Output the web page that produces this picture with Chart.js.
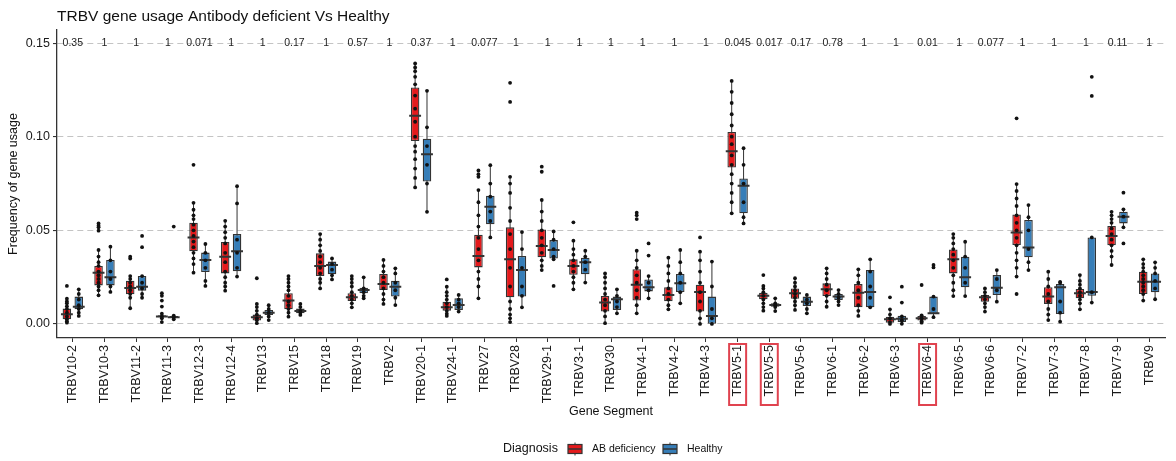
<html><head><meta charset="utf-8">
<script src="https://cdn.jsdelivr.net/npm/chart.js@4.4.0/dist/chart.umd.min.js"></script>
<style>
 html, body { margin:0; padding:0; background:#fff; }
</style>
</head>
<body>
<canvas id="myChart" width="1176" height="461"></canvas>
<script>
var chartTitle = 'TRBV gene usage Antibody deficient Vs Healthy';
var genes = ['TRBV10-2','TRBV10-3','TRBV11-2','TRBV11-3','TRBV12-3','TRBV12-4','TRBV13','TRBV15','TRBV18','TRBV19',
  'TRBV2','TRBV20-1','TRBV24-1','TRBV27','TRBV28','TRBV29-1','TRBV3-1','TRBV30','TRBV4-1','TRBV4-2','TRBV4-3',
  'TRBV5-1','TRBV5-5','TRBV5-6','TRBV6-1','TRBV6-2','TRBV6-3','TRBV6-4','TRBV6-5','TRBV6-6','TRBV7-2','TRBV7-3',
  'TRBV7-8','TRBV7-9','TRBV9'];
var pValues = ['0.35','1','1','1','0.071','1','1','0.17','1','0.57','1','0.37','1','0.077','1','1','1','1','1','1','1',
  '0.045','0.017','0.17','0.78','1','1','0.01','1','0.077','1','1','1','0.11','1'];
var highlighted = ['TRBV5-1','TRBV5-5','TRBV6-4'];
var yTicks = [0, 0.05, 0.10, 0.15];
var pLabelY = 0.15;

// AB deficiency boxes
var abLo  = [0.0007,0.0153,0.0084,0.001,0.0274,0.0178,0.0004,0.0039,0.019,0.0089,0.0107,0.0729,0.0043,0.0137,0.001,0.0288,0.0185,0.0004,0.0057,0.0078,0.0,0.0591,0.0071,0.0075,0.0092,0.0043,0.0,0.0007,0.0149,0.0066,0.0253,0.0021,0.0078,0.0315,0.0125];
var abQ1  = [0.0025,0.0206,0.0158,0.0036,0.0388,0.027,0.0018,0.0078,0.0256,0.0123,0.0181,0.0977,0.0071,0.0302,0.0142,0.0356,0.0263,0.0066,0.0125,0.0121,0.0066,0.0836,0.0132,0.0135,0.0149,0.0089,0.0007,0.0018,0.027,0.0119,0.0422,0.0107,0.0137,0.042,0.016];
var abMed = [0.0052,0.0274,0.0192,0.004,0.0462,0.0359,0.0036,0.0125,0.031,0.0142,0.0213,0.1112,0.0089,0.0363,0.0345,0.0416,0.031,0.0114,0.021,0.0155,0.0171,0.0923,0.0151,0.0164,0.0185,0.0167,0.0025,0.003,0.0345,0.0142,0.0489,0.0146,0.0164,0.047,0.0226];
var abQ3  = [0.0082,0.031,0.0231,0.0046,0.0541,0.0438,0.005,0.0164,0.0377,0.0164,0.0267,0.1263,0.0119,0.0477,0.0516,0.0505,0.0345,0.0149,0.0292,0.0196,0.021,0.1025,0.0167,0.0189,0.0217,0.0213,0.0039,0.0043,0.0398,0.0155,0.0585,0.0196,0.0187,0.0523,0.0279];
var abHi  = [0.0135,0.0395,0.0256,0.0055,0.0647,0.0551,0.0107,0.0256,0.048,0.0256,0.0342,0.1391,0.0199,0.0715,0.0786,0.0662,0.0445,0.027,0.0391,0.0354,0.0386,0.1298,0.0203,0.0244,0.0297,0.0292,0.0078,0.0046,0.048,0.019,0.0747,0.0279,0.0261,0.0599,0.0345];

// Healthy boxes
var hcLo  = [0.0043,0.0171,0.014,0.0025,0.0203,0.0253,0.0021,0.0048,0.0238,0.0137,0.0101,0.0599,0.0066,0.0462,0.0089,0.0345,0.0221,0.0057,0.0137,0.011,0.0,0.0537,0.0069,0.0057,0.0101,0.0089,0.0001,0.0036,0.0149,0.0119,0.0288,0.0012,0.0114,0.0516,0.0132];
var hcQ1  = [0.0078,0.0206,0.0178,0.0032,0.0277,0.0281,0.0048,0.0057,0.0265,0.0164,0.0146,0.0761,0.0075,0.0532,0.0146,0.035,0.0265,0.0075,0.0174,0.0171,0.0001,0.0591,0.0092,0.0096,0.0128,0.0089,0.0011,0.0053,0.0196,0.0155,0.0356,0.0053,0.0151,0.0537,0.0169];
var hcMed = [0.0092,0.0249,0.0199,0.0036,0.0342,0.0388,0.006,0.0069,0.0315,0.0181,0.0199,0.0907,0.0101,0.0626,0.0288,0.0395,0.0329,0.0132,0.0196,0.0217,0.0043,0.0738,0.0101,0.0119,0.0146,0.0171,0.0028,0.0057,0.0249,0.0194,0.0409,0.0196,0.0171,0.0573,0.0226];
var hcQ3  = [0.0146,0.0342,0.0256,0.0043,0.0381,0.048,0.0075,0.0082,0.0333,0.0194,0.0231,0.0989,0.0137,0.0685,0.0363,0.0448,0.0354,0.0146,0.0238,0.0267,0.0146,0.0777,0.011,0.0146,0.016,0.0288,0.0044,0.0146,0.0359,0.0261,0.0555,0.0213,0.0462,0.0599,0.027];
var hcHi  = [0.0185,0.0413,0.0256,0.0045,0.0427,0.0736,0.01,0.0107,0.035,0.0249,0.0297,0.1245,0.0155,0.0848,0.0491,0.0494,0.0391,0.0185,0.0256,0.0395,0.0333,0.0939,0.0137,0.0155,0.0181,0.0345,0.0044,0.0146,0.0439,0.0288,0.0635,0.0224,0.0462,0.0612,0.0329];

// individual samples (jitter + outliers)
var abPoints = [
  [0.0203,0.0135,0.012,0.011,0.0095,0.008,0.006,0.004,0.0025,0.0015,0.0007],
  [0.0537,0.0525,0.0516,0.0498,0.0395,0.036,0.033,0.031,0.028,0.026,0.024,0.022,0.02,0.018,0.0153],
  [0.0359,0.0349,0.0256,0.024,0.022,0.02,0.018,0.016,0.014,0.0084],
  [0.0164,0.015,0.0125,0.0093,0.0055,0.004,0.003,0.001],
  [0.085,0.0647,0.061,0.058,0.056,0.053,0.05,0.047,0.044,0.041,0.038,0.035,0.032,0.0274],
  [0.0551,0.052,0.049,0.046,0.043,0.038,0.033,0.028,0.025,0.022,0.02,0.0178],
  [0.0244,0.0107,0.009,0.007,0.005,0.003,0.002,0.0004],
  [0.0256,0.024,0.022,0.02,0.018,0.015,0.012,0.01,0.008,0.006,0.0039],
  [0.048,0.045,0.042,0.039,0.036,0.033,0.03,0.027,0.024,0.022,0.019],
  [0.0256,0.024,0.022,0.02,0.017,0.015,0.013,0.011,0.0089],
  [0.0342,0.031,0.028,0.025,0.022,0.019,0.016,0.013,0.0107],
  [0.1391,0.137,0.135,0.132,0.128,0.122,0.115,0.108,0.1,0.095,0.092,0.088,0.083,0.078,0.0729],
  [0.0238,0.0199,0.017,0.015,0.013,0.011,0.009,0.007,0.0055,0.0043],
  [0.082,0.08,0.0786,0.0715,0.065,0.058,0.052,0.046,0.04,0.034,0.028,0.024,0.02,0.0137],
  [0.1288,0.1186,0.0786,0.075,0.07,0.062,0.055,0.048,0.04,0.03,0.02,0.012,0.008,0.005,0.003,0.001],
  [0.084,0.0813,0.0662,0.06,0.055,0.05,0.046,0.042,0.038,0.034,0.031,0.0288],
  [0.0543,0.0445,0.04,0.037,0.034,0.031,0.028,0.025,0.022,0.0185],
  [0.027,0.025,0.022,0.019,0.016,0.013,0.01,0.007,0.004,0.0004],
  [0.0594,0.058,0.056,0.0391,0.034,0.03,0.026,0.022,0.018,0.014,0.01,0.0057],
  [0.0354,0.031,0.027,0.023,0.019,0.016,0.013,0.01,0.0078],
  [0.0462,0.0386,0.034,0.028,0.022,0.017,0.012,0.007,0.003,0.0],
  [0.1298,0.124,0.118,0.112,0.106,0.1,0.096,0.09,0.085,0.08,0.075,0.07,0.065,0.0591],
  [0.0261,0.0203,0.019,0.017,0.015,0.013,0.011,0.009,0.0071],
  [0.0244,0.022,0.02,0.018,0.016,0.014,0.012,0.01,0.0075],
  [0.0297,0.027,0.024,0.021,0.018,0.015,0.012,0.0092],
  [0.0292,0.026,0.022,0.018,0.014,0.01,0.007,0.0043],
  [0.0142,0.0078,0.005,0.003,0.001,0.0],
  [0.0208,0.0046,0.003,0.0015,0.0007],
  [0.048,0.046,0.043,0.04,0.037,0.034,0.03,0.026,0.022,0.018,0.0149],
  [0.019,0.017,0.015,0.013,0.011,0.009,0.0066],
  [0.1098,0.0747,0.071,0.067,0.063,0.058,0.054,0.05,0.046,0.042,0.038,0.034,0.03,0.0253,0.016],
  [0.0279,0.024,0.02,0.016,0.012,0.008,0.005,0.0021],
  [0.0261,0.023,0.021,0.019,0.017,0.015,0.013,0.011,0.0078],
  [0.0599,0.058,0.056,0.054,0.051,0.048,0.045,0.042,0.039,0.036,0.0315],
  [0.0345,0.032,0.03,0.028,0.026,0.024,0.022,0.02,0.018,0.016,0.0125]
];
var hcPoints = [
  [0.0185,0.016,0.013,0.01,0.008,0.006,0.0043],
  [0.0413,0.034,0.028,0.024,0.02,0.0171],
  [0.047,0.041,0.0256,0.022,0.019,0.016,0.014],
  [0.052,0.0045,0.0035,0.0025],
  [0.0427,0.038,0.034,0.03,0.023,0.0203],
  [0.0736,0.0644,0.045,0.038,0.03,0.0253],
  [0.01,0.008,0.006,0.004,0.0021],
  [0.0107,0.009,0.007,0.006,0.0048],
  [0.035,0.032,0.029,0.026,0.0238],
  [0.0249,0.019,0.017,0.015,0.0137],
  [0.0297,0.027,0.022,0.018,0.014,0.0101],
  [0.1245,0.105,0.095,0.085,0.075,0.0599],
  [0.0155,0.013,0.011,0.009,0.0066],
  [0.0848,0.075,0.068,0.06,0.055,0.0462],
  [0.0491,0.04,0.03,0.02,0.015,0.0089],
  [0.0494,0.045,0.04,0.036,0.0345,0.0203],
  [0.0391,0.036,0.033,0.029,0.0221],
  [0.0185,0.015,0.012,0.009,0.0057],
  [0.043,0.0365,0.0256,0.022,0.018,0.0137],
  [0.0395,0.033,0.027,0.022,0.017,0.011],
  [0.0333,0.02,0.008,0.003,0.0],
  [0.0939,0.085,0.075,0.065,0.057,0.0537],
  [0.0137,0.011,0.01,0.009,0.0069],
  [0.0155,0.013,0.011,0.008,0.0057],
  [0.0181,0.016,0.014,0.012,0.0101],
  [0.0345,0.028,0.02,0.014,0.0089],
  [0.0199,0.0114,0.004,0.002,0.0001],
  [0.0315,0.0302,0.0146,0.008,0.0036],
  [0.0439,0.036,0.03,0.022,0.0149],
  [0.0288,0.024,0.018,0.0119],
  [0.0635,0.057,0.05,0.04,0.033,0.0288],
  [0.0224,0.022,0.012,0.006,0.0012],
  [0.132,0.1218,0.0462,0.017,0.0114],
  [0.0701,0.0612,0.0573,0.0516,0.043],
  [0.0329,0.03,0.027,0.023,0.019,0.0132]
];

var FONT = '"Liberation Sans", Arial, Helvetica, sans-serif';
var RED = '#E41A1C', BLUE = '#377EB8', EDGE = '#333333';
var SHIFT = 0.1875;   // half of the dodge slot, in category units

function boxes(q1, q3, s) {
  return genes.map(function (g, i) { return { x: i + s, y: [q1[i], q3[i]] }; });
}
function whiskers(lo, hi, s) {
  var d = [];
  genes.forEach(function (g, i) {
    d.push({x: i + s, y: lo[i]}, {x: i + s, y: hi[i]}, {x: i + s, y: null});
  });
  return d;
}
function medians(m, s) {
  var d = [];
  genes.forEach(function (g, i) {
    d.push({x: i + s - SHIFT, y: m[i]}, {x: i + s + SHIFT, y: m[i]}, {x: i + s + SHIFT, y: null});
  });
  return d;
}
function points(p, s) {
  var d = [];
  p.forEach(function (list, i) {
    list.forEach(function (v) { d.push({x: i + s, y: v}); });
  });
  return d;
}
function lineSet(data, width, order) {
  return { type: 'line', xAxisID: 'xj', yAxisID: 'y', data: data, borderColor: EDGE, borderWidth: width,
           pointRadius: 0, fill: false, spanGaps: false, order: order };
}
function boxSet(label, data, color) {
  return { type: 'bar', label: label, xAxisID: 'xj', yAxisID: 'y', data: data, grouped: false,
           backgroundColor: color, borderColor: EDGE, borderWidth: 1.3, borderSkipped: false,
           maxBarThickness: 12, order: 2 };
}

var overlay = {
  id: 'overlay',
  afterDraw: function (chart) {
    var ctx = chart.ctx, xs = chart.scales.x, ys = chart.scales.y, area = chart.chartArea;
    ctx.save();
    ctx.textBaseline = 'middle';
    // title
    ctx.fillStyle = '#111';
    ctx.font = '15.5px ' + FONT;
    ctx.textAlign = 'left';
    ctx.fillText(chartTitle, area.left, 17);
    // p-values
    ctx.font = '10.5px ' + FONT;
    ctx.textAlign = 'center';
    ctx.fillStyle = '#222';
    var py = ys.getPixelForValue(pLabelY);
    pValues.forEach(function (p, i) { ctx.fillText(p, xs.getPixelForValue(i), py); });
    // red boxes round the highlighted labels
    ctx.strokeStyle = '#E0434F';
    ctx.lineWidth = 2;
    highlighted.forEach(function (g) {
      var x = xs.getPixelForValue(genes.indexOf(g));
      ctx.strokeRect(x - 8.5, area.bottom + 6, 17, 61);
    });
    // legend
    var ly = 449;
    ctx.textAlign = 'left';
    ctx.fillStyle = '#111';
    ctx.font = '12.5px ' + FONT;
    ctx.fillText('Diagnosis', 503, ly);
    ctx.font = '10.5px ' + FONT;
    [[568, RED, 'AB deficiency'], [663, BLUE, 'Healthy']].forEach(function (k) {
      var kx = k[0];
      ctx.strokeStyle = EDGE; ctx.lineWidth = 1;
      ctx.beginPath(); ctx.moveTo(kx + 7, ly - 6.5); ctx.lineTo(kx + 7, ly + 6.5); ctx.stroke();
      ctx.fillStyle = k[1];
      ctx.fillRect(kx, ly - 4.5, 14, 9);
      ctx.lineWidth = 1.2;
      ctx.strokeRect(kx, ly - 4.5, 14, 9);
      ctx.lineWidth = 1.5;
      ctx.beginPath(); ctx.moveTo(kx, ly); ctx.lineTo(kx + 14, ly); ctx.stroke();
      ctx.fillStyle = '#111';
      ctx.fillText(k[2], kx + 24, ly);
    });
    ctx.restore();
  }
};

var ctx = document.getElementById('myChart');
var myChart = new Chart(ctx, {
  type: 'bar',
  data: {
    labels: genes,
    datasets: [
      { type: 'scatter', label: 'AB points', xAxisID: 'xj', yAxisID: 'y', data: points(abPoints, -SHIFT),
        pointRadius: 1.9, backgroundColor: '#111', borderWidth: 0, order: 0 },
      { type: 'scatter', label: 'HC points', xAxisID: 'xj', yAxisID: 'y', data: points(hcPoints, SHIFT),
        pointRadius: 1.9, backgroundColor: '#111', borderWidth: 0, order: 0 },
      lineSet(medians(abMed, -SHIFT), 2, 1),
      lineSet(medians(hcMed, SHIFT), 2, 1),
      boxSet('AB deficiency', boxes(abQ1, abQ3, -SHIFT), RED),
      boxSet('Healthy', boxes(hcQ1, hcQ3, SHIFT), BLUE),
      lineSet(whiskers(abLo, abHi, -SHIFT), 1, 3),
      lineSet(whiskers(hcLo, hcHi, SHIFT), 1, 3)
    ]
  },
  options: {
    responsive: false,
    animation: false,
    events: [],
    layout: { padding: { top: 30, right: 11, bottom: 41, left: 0 } },
    plugins: { legend: { display: false }, tooltip: { enabled: false }, title: { display: false } },
    scales: {
      x: {
        type: 'category', offset: true,
        grid: { offset: false, drawOnChartArea: false, tickLength: 4, color: EDGE, tickColor: EDGE },
        border: { color: EDGE, width: 1.3 },
        ticks: { autoSkip: false, minRotation: 90, maxRotation: 90, padding: 3, color: '#1a1a1a',
                 font: { size: 12.5, family: FONT } },
        title: { display: true, text: 'Gene Segment', color: '#111', font: { size: 12.5, family: FONT },
                 padding: { top: 0, bottom: 1 } },
        afterFit: function (s) { s.height = 82; }
      },
      xj: { type: 'linear', display: false, offset: false, min: -0.5, max: genes.length - 0.5,
            grid: { offset: false } },
      y: {
        type: 'linear', min: -0.0075, max: 0.157, stacked: false,
        afterBuildTicks: function (s) { s.ticks = yTicks.map(function (v) { return { value: v }; }); },
        grid: { color: '#c4c4c4', lineWidth: 1.1, tickColor: EDGE, tickLength: 4 },
        border: { color: EDGE, width: 1.3, dash: [6, 4] },
        ticks: { padding: 3, color: '#1a1a1a', font: { size: 12.5, family: FONT },
                 callback: function (v) { return v.toFixed(2); } },
        title: { display: true, text: 'Frequency of gene usage', color: '#111',
                 font: { size: 12.5, family: FONT }, padding: { top: 6, bottom: 0 } },
        afterFit: function (s) { s.width = 57; }
      }
    }
  },
  plugins: [overlay]
});
</script>
</body></html>
